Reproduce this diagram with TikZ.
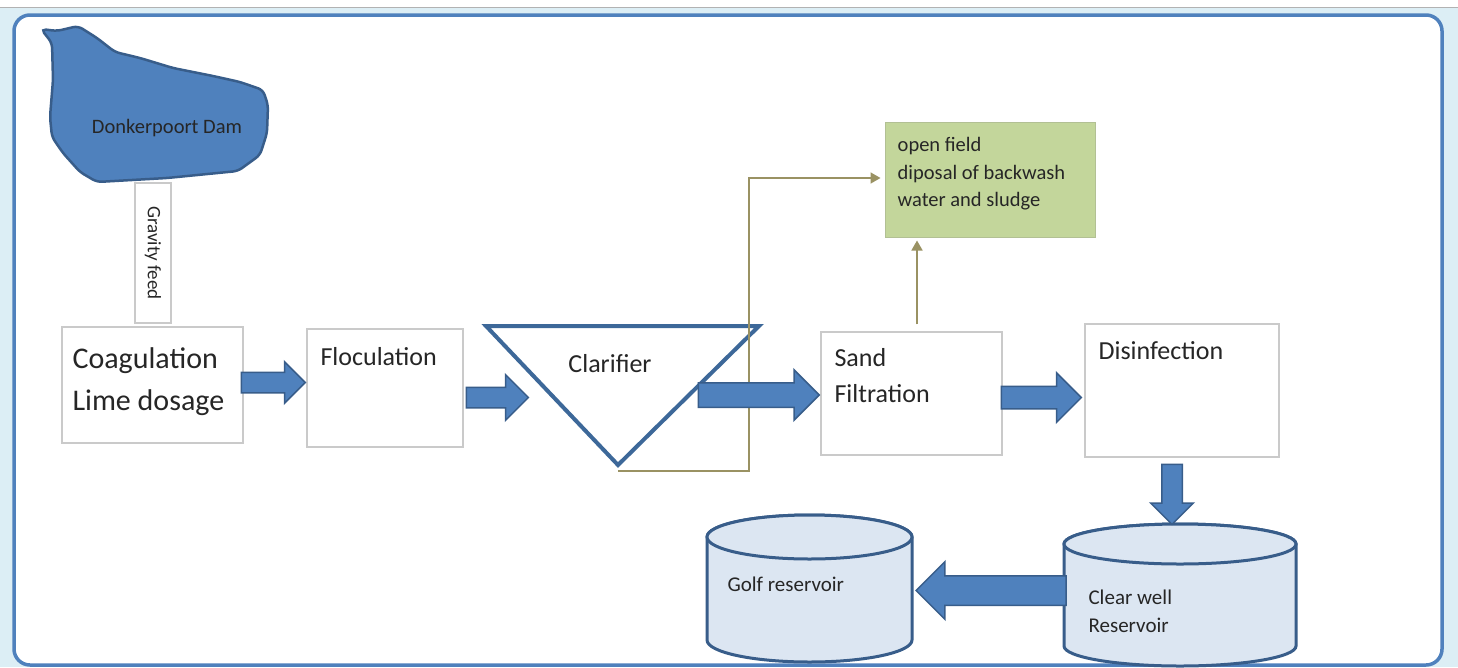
\documentclass[tikz,border=0pt]{standalone}
\usepackage{fontspec}
\setmainfont{Carlito}
\usepackage{xcolor}
\usetikzlibrary{shapes,arrows.meta,positioning}

\definecolor{frameblue}{HTML}{4F81BD}
\definecolor{darkblue}{HTML}{385D8A}
\definecolor{clarblue}{HTML}{3D6899}
\definecolor{paleblue}{HTML}{DCE6F2}
\definecolor{edgeblue}{HTML}{DCEEF5}
\definecolor{oliveline}{HTML}{9A9263}
\definecolor{sage}{HTML}{C3D69B}
\definecolor{boxgray}{HTML}{CACACA}
\definecolor{inkgray}{HTML}{262626}

\begin{document}
\begin{tikzpicture}
            [x=1pt, y=-1pt,
             stepbox/.style={draw=boxgray, line width=1.3pt, fill=white, rectangle, inner sep=0pt},
             boxtext/.style={anchor=north west, align=left, inner sep=0pt, text=inkgray},
             bigfont/.style={font=\fontsize{26}{36}\selectfont},
             smallfont/.style={font=\fontsize{20.5}{27.5}\selectfont},
             flowarrow/.style={single arrow, single arrow head indent=0pt, single arrow tip angle=90,
                               fill=frameblue, draw=darkblue, line width=1.5pt},
             sludge/.style={draw=oliveline, line width=1.6pt},
             tank/.style={draw=darkblue, line width=3pt, fill=paleblue}]

            \useasboundingbox (0,0) rectangle (1458,667);
            \fill[edgeblue] (0,8) rectangle (1458,667);
            \draw[gray!60, line width=1.5pt] (0,7.5) -- (1458,7.5);
            \draw[frameblue, line width=3.5pt, fill=white, rounded corners=16pt] (14,15) rectangle (1442,665);

            % the dam
            \draw[darkblue, fill=frameblue, line width=2.5pt, rounded corners=5pt]
                (41,29) -- (57,31) -- (78,26) -- (97,38) -- (115,52) -- (140,58) -- (173,68)
                -- (213,76) -- (240,82) -- (263,90) -- (268,105) -- (267,133) -- (260,155)
                -- (238,171) -- (167,178) -- (97,182) -- (80,172) -- (63,153) -- (52,137)
                -- (50,117) -- (53,80) -- (52,43) -- cycle;
            \node[text=inkgray, font=\fontsize{20.5}{24}\selectfont] (dam) at (167,128) {Donkerpoort Dam};
            \node[stepbox, minimum width=140, minimum height=36, rotate=-90, text=inkgray,
                  font=\fontsize{19}{22}\selectfont] (gravity) at (153,253) {Gravity feed};

            \node[stepbox, minimum width=181, minimum height=116,
                  label={[boxtext, xshift=11pt, yshift=-21pt, font=\fontsize{30}{42}\selectfont]north west:{Coagulation\\Lime dosage}}] (coag) at (152.5,385) {};
            \node[stepbox, minimum width=156, minimum height=118,
                  label={[boxtext, bigfont, xshift=14pt, yshift=-19pt]north west:Floculation}] (floc) at (385,388) {};

            \draw[clarblue, line width=4pt] (486,326) -- (759,326) -- (618,465) -- cycle;
            \node[text=inkgray, bigfont] (clarifier) at (610,364) {Clarifier};
            \coordinate (clarbase) at (618,471);

            \node[stepbox, minimum width=181, minimum height=123,
                  label={[boxtext, bigfont, xshift=14pt, yshift=-17pt]north west:{Sand\\Filtration}}] (sand) at (911.5,393.5) {};
            \node[stepbox, minimum width=194, minimum height=133,
                  label={[boxtext, bigfont, xshift=14pt, yshift=-18pt]north west:Disinfection}] (disinf) at (1182,390.5) {};
            \node[draw=sage!75!gray, line width=1pt, fill=sage, minimum width=210, minimum height=115,
                  label={[boxtext, smallfont, xshift=13pt, yshift=-16pt]north west:{open field\\diposal of backwash\\water and sludge}}] (disposal) at (990,179.5) {};

            % backwash and sludge lines
            \draw[sludge, -{Triangle[length=10pt, width=11pt]}] (clarbase) -- (749,471) |- ([xshift=-4pt, yshift=1.5pt]disposal.west);
            \coordinate (wash) at ([xshift=5.5pt, yshift=7pt]sand.north);
            \draw[sludge, -{Triangle[length=10pt, width=11pt]}, shorten >=3pt] (wash) -- (wash |- disposal.south);

            % storage tanks
            \filldraw[tank] (707,537) -- (707,640) arc[start angle=180, end angle=0, x radius=102.5, y radius=22]
                -- (912,537) arc[start angle=0, end angle=-180, x radius=102.5, y radius=22] -- cycle;
            \draw[tank] (809.5,537) ellipse[x radius=102.5, y radius=22];
            \node[anchor=west, text=inkgray, font=\fontsize{21}{28}\selectfont] (golf) at (724,584) {Golf reservoir};

            \filldraw[tank] (1064,544) -- (1064,646) arc[start angle=180, end angle=0, x radius=116, y radius=20]
                -- (1296,544) arc[start angle=0, end angle=-180, x radius=116, y radius=20] -- cycle;
            \draw[tank] (1180,544) ellipse[x radius=116, y radius=20];
            \node[anchor=west, align=left, text=inkgray, font=\fontsize{21}{28}\selectfont] (clearwell) at (1085,611) {Clear well\\Reservoir};

            % flow arrows
            \node[flowarrow, inner xsep=0pt, inner ysep=9.5pt, single arrow head extend=10.5pt, minimum height=64pt, anchor=tip] (a1) at ([yshift=5.5pt]floc.west) {};
            \node[flowarrow, inner xsep=0pt, inner ysep=9.5pt, single arrow head extend=12.5pt, minimum height=62pt, anchor=tail] (a2) at ([xshift=2pt, yshift=-9.5pt]floc.east) {};
            \node[flowarrow, inner xsep=0pt, inner ysep=11.5pt, single arrow head extend=13pt, minimum height=121pt, anchor=tip] (a3) at ([yshift=-1.5pt]sand.west) {};
            \node[flowarrow, inner xsep=0pt, inner ysep=10.5pt, single arrow head extend=13.5pt, minimum height=80pt, anchor=tip] (a4) at ([xshift=-2pt, yshift=-7pt]disinf.west) {};
            \node[flowarrow, inner sep=9.5pt, single arrow head extend=11pt, minimum height=60pt, shape border rotate=270, anchor=tail] (a5) at ([xshift=-10pt, yshift=-6pt]disinf.south) {};
            \node[flowarrow, inner sep=14pt, single arrow head extend=14pt, minimum height=150pt, shape border rotate=180, anchor=tip] (a6) at (915,590.5) {};
        \end{tikzpicture}
\end{document}
